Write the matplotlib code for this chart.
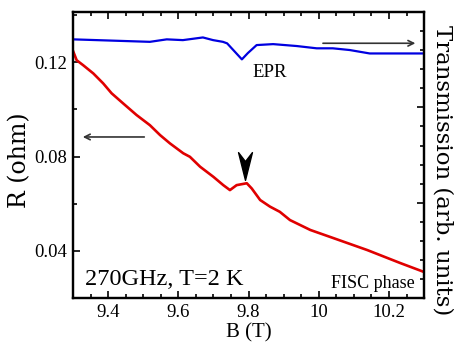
#!/usr/bin/env python3

import matplotlib
matplotlib.use("Agg")
import matplotlib.pyplot as plt
import numpy as np
from matplotlib.path import Path
from matplotlib.ticker import MultipleLocator, NullFormatter

# resistance trace (left axis)
b_red = [9.301, 9.3105, 9.329, 9.358, 9.386, 9.410, 9.443, 9.481, 9.519, 9.548,
         9.576, 9.614, 9.633, 9.662, 9.700, 9.728, 9.747, 9.766, 9.795, 9.809,
         9.833, 9.861, 9.889, 9.918, 9.947, 9.976, 10.041, 10.138, 10.232, 10.300]
r_red = [0.1244, 0.1208, 0.1187, 0.1152, 0.1110, 0.1068, 0.1025, 0.0976, 0.0933, 0.0891,
         0.0856, 0.0814, 0.0799, 0.0757, 0.0714, 0.0679, 0.0658, 0.0679, 0.0687, 0.0665,
         0.0616, 0.0588, 0.0566, 0.0531, 0.0510, 0.0489, 0.0455, 0.0404, 0.0349, 0.0311]

# transmission trace (right axis, arb. units)
b_blue = [9.300, 9.519, 9.567, 9.613, 9.670, 9.699, 9.727, 9.739, 9.761, 9.781,
          9.798, 9.823, 9.870, 9.937, 9.994, 10.040, 10.088, 10.145, 10.296]
t_blue = [13.57, 13.44, 13.57, 13.53, 13.67, 13.53, 13.44, 13.36, 12.92, 12.52,
          12.85, 13.27, 13.32, 13.22, 13.10, 13.10, 13.01, 12.83, 12.83]

b_peak, r_peak = 9.79, 0.0758

plt.rcParams['font.family'] = ['Liberation Serif', 'DejaVu Serif']

fig = plt.figure()
fig.set_size_inches(4.62, 3.56)
ax = fig.add_axes([0.158, 0.163, 0.76, 0.803])
ax2 = ax.twinx()

ax.plot(b_red, r_red, '-', color='#e00000', lw=1.9)
ax2.plot(b_blue, t_blue, '-', color='#0000e0', lw=1.6)

# downward barbed arrowhead marking the feature
head = Path([(0, -1), (-0.5, 1), (0, 0.35), (0.5, 1), (0, -1)],
            [Path.MOVETO, Path.LINETO, Path.LINETO, Path.LINETO, Path.CLOSEPOLY])
ax.plot([b_peak], [r_peak], marker=head, ms=20, color='black', ls='none')

ax.set_xlim(9.3, 10.3)
ax.set_ylim(0.0201, 0.1412)
ax2.set_ylim(0, 15)

ax.xaxis.set_minor_locator(MultipleLocator(0.05))
ax.yaxis.set_minor_locator(MultipleLocator(0.02))
ax.set_xticks([9.4, 9.6, 9.8, 10.0, 10.2])
ax.set_xticklabels(['9.4', '9.6', '9.8', '10', '10.2'])
ax.set_yticks([0.04, 0.08, 0.12])
ax.set_yticklabels(['0.04', '0.08', '0.12'])
ax2.yaxis.set_major_locator(MultipleLocator(5))
ax2.yaxis.set_minor_locator(MultipleLocator(1))
ax2.yaxis.set_major_formatter(NullFormatter())

ax.tick_params(which='both', direction='in', top=True, right=False,
               labelsize=13.5, width=1.2, pad=4)
ax.tick_params(which='major', length=5)
ax.tick_params(which='minor', length=3)
ax2.tick_params(which='both', direction='in', width=1.2)
ax2.tick_params(which='major', length=5)
ax2.tick_params(which='minor', length=3)
for a in (ax, ax2):
    for s in a.spines.values():
        s.set_linewidth(1.6)

ax.set_xlabel("B (T)", fontsize=15, labelpad=2)
ax.set_ylabel("R (ohm)", fontsize=17, family='DejaVu Serif', fontweight='light')
ax.yaxis.set_label_coords(-0.12, 0.483)
ax2.set_ylabel("Transmission (arb. units)", fontsize=16.5, family='DejaVu Serif',
               rotation=270, va='bottom', fontweight='light')
ax2.yaxis.set_label_coords(1.02, 0.448)

ax.text(9.334, 0.0256, "270GHz, T=2 K", fontsize=17.5)
ax.text(9.81, 0.1137, "EPR", fontsize=13.5)
ax.text(10.274, 0.0243, "FISC phase", fontsize=13, ha='right')

ax.annotate('', xy=(9.32, 0.0883), xytext=(9.511, 0.0883),
            arrowprops=dict(arrowstyle='->', color='#333333', lw=1.2))
ax.annotate('', xy=(10.283, 0.128), xytext=(10.004, 0.128),
            arrowprops=dict(arrowstyle='->', color='#333333', lw=1.2))

fig.savefig('out.png', dpi=100)
